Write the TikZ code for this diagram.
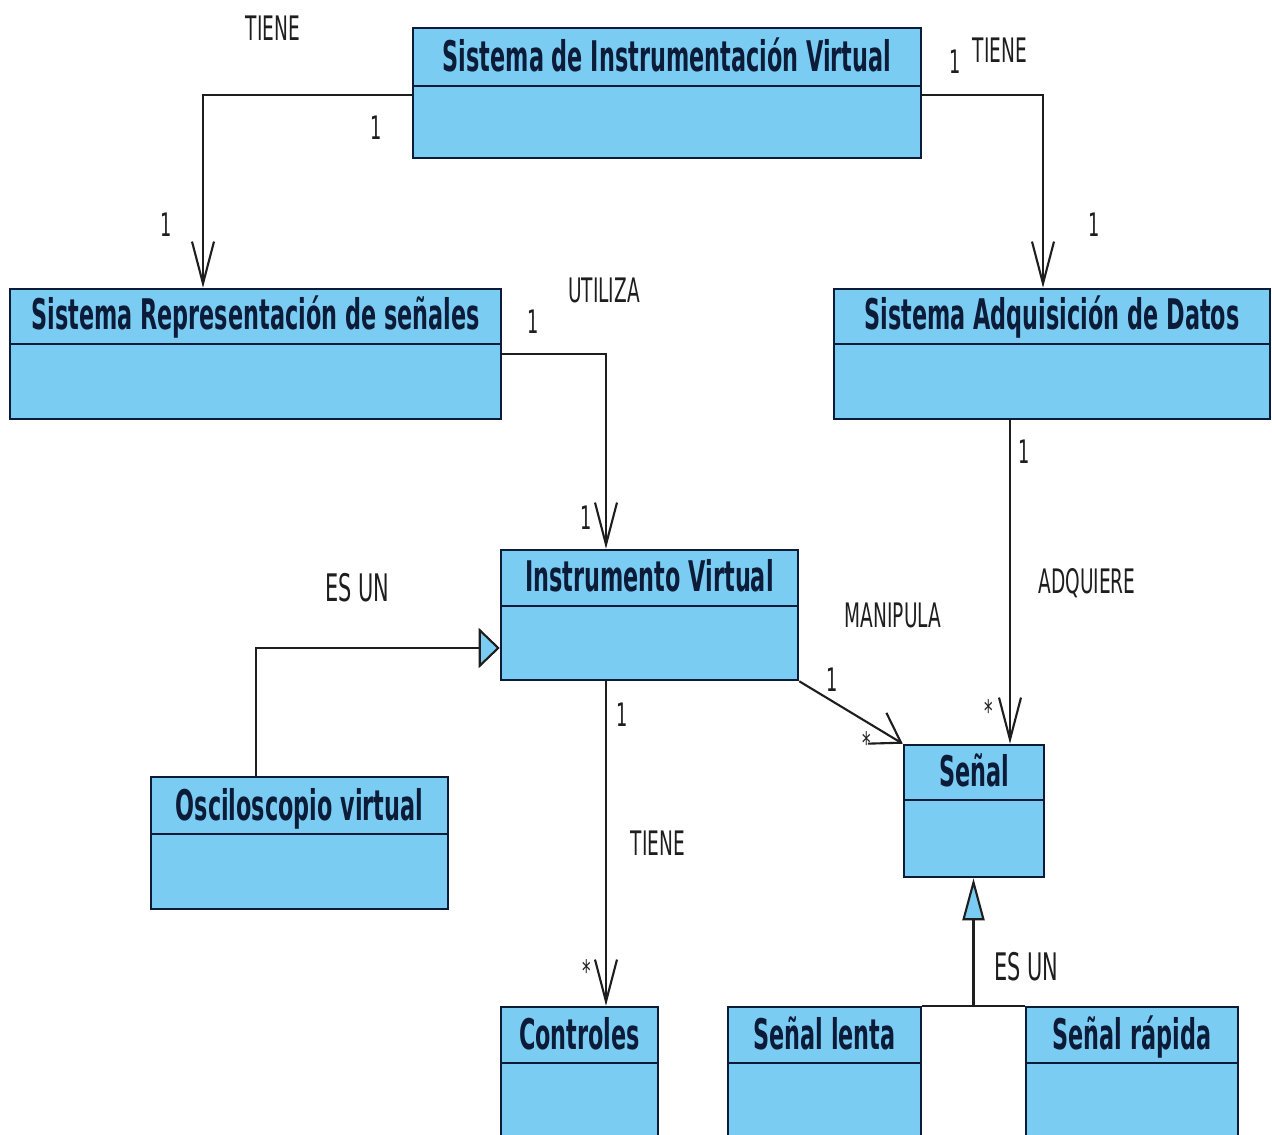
\documentclass[tikz,border=0pt]{standalone}
\usepackage{fontspec}
\setmainfont{DejaVu Sans}
\newfontfamily\titlefont{DejaVu Sans}[FakeStretch=0.53]
\newfontfamily\lblfont{DejaVu Sans}[FakeStretch=0.55]
\usetikzlibrary{arrows.meta,fit,calc}

\definecolor{boxblue}{RGB}{122,204,242}
\definecolor{ink}{RGB}{12,28,56}
\definecolor{wire}{RGB}{30,30,30}

\tikzset{
  x=0.025cm, y=-0.025cm,
  classbox/.style={draw=ink, line width=1.8pt, fill=boxblue, inner sep=0pt},
  ctitle/.style={font=\titlefont\bfseries\fontsize{30}{30}\selectfont, text=ink, inner sep=0pt, anchor=base},
  assoc/.style={draw=wire, line width=1.5pt},
  navarrow/.style={-{Straight Barb[length=1.05cm,width=0.55cm]}},
  diagarrow/.style={-{Straight Barb[length=0.7cm,width=0.9cm]}},
  genright/.style={-{Triangle[length=0.525cm,width=1cm,fill=boxblue]}},
  genup/.style={-{Triangle[length=1.05cm,width=0.55cm,fill=boxblue]}},
  lbl/.style={font=\lblfont\fontsize{24}{24}\selectfont, text=wire, inner sep=0pt},
  biglbl/.style={font=\lblfont\fontsize{27}{27}\selectfont, text=wire, inner sep=0pt},
  mult/.style={font=\lblfont\fontsize{23}{23}\selectfont, text=wire, inner sep=0pt},
  star/.style={font=\lblfont\fontsize{22}{22}\selectfont, text=wire, inner sep=0pt, anchor=north},
}

% class box: name, x1, y1, x2, y2, y of the divider, class name
\newcommand\umlclass[7]{%
  \node[classbox, fit={(#2,#3) (#4,#5)}] (#1) {};
  \draw[draw=ink, line width=1.8pt] (#2,#6) -- (#4,#6);
  \node[ctitle] (#1-title) at ({(#2+#4)/2},{#6-14}) {#7};
}

\begin{document}
\begin{tikzpicture}
\useasboundingbox (0,0) rectangle (1272,1135);
\fill[white] (0,0) rectangle (1272,1135);
\clip (0,0) rectangle (1272,1135);

% classes
\umlclass{sisv}{413}{28}{921}{158}{86}{Sistema de Instrumentación Virtual}
\umlclass{srep}{10}{289}{501}{419}{344}{Sistema Representación de señales}
\umlclass{sadq}{834}{289}{1270}{419}{344}{Sistema Adquisición de Datos}
\umlclass{iv}{501}{550}{798}{680}{606}{Instrumento Virtual}
\umlclass{osc}{151}{777}{448}{909}{834}{Osciloscopio virtual}
\umlclass{senal}{904}{745}{1044}{877}{800}{Señal}
\umlclass{ctrl}{501}{1007}{658}{1150}{1063}{Controles}
\umlclass{slenta}{728}{1007}{921}{1150}{1063}{Señal lenta}
\umlclass{srapida}{1026}{1007}{1238}{1150}{1063}{Señal rápida}

% associations
\draw[assoc, navarrow] (sisv.west |- 0,95) -| (203,0 |- srep.north);
\draw[assoc, navarrow] (sisv.east |- 0,95) -| (1043,0 |- sadq.north);
\draw[assoc, navarrow] (srep.east |- 0,354) -| (606,0 |- iv.north);
\draw[assoc, navarrow] (sadq.south -| 1010,0) -- (senal.north -| 1010,0);
\draw[assoc, navarrow] (iv.south -| 606,0) -- (ctrl.north -| 606,0);
\draw[assoc, diagarrow] (iv.south east) -- (senal.north west);

% generalizations
\draw[assoc, genright] (osc.north -| 256,0) |- (iv.west |- 0,648);
\coordinate (gj) at ($(slenta.north east)!0.5!(srapida.north west)$);
\draw[assoc] (slenta.north east) -- (srapida.north west);
\draw[assoc, genup] (gj) -- (gj |- senal.south);

% association names
\node[lbl] (l1) at (273,28) {TIENE};
\node[lbl] (l2) at (1000,50) {TIENE};
\node[lbl] (l3) at (604,290) {UTILIZA};
\node[biglbl] (l4) at (357,588) {ES UN};
\node[lbl] (l5) at (893,615) {MANIPULA};
\node[lbl] (l6) at (1087,583) {ADQUIERE};
\node[lbl] (l7) at (658,843) {TIENE};
\node[biglbl] (l8) at (1026,967) {ES UN};

% multiplicities
\node[mult] (m1) at (376,128) {1};
\node[mult] (m2) at (166,225) {1};
\node[mult] (m3) at (955,62) {1};
\node[mult] (m4) at (1094,225) {1};
\node[mult] (m5) at (533,322) {1};
\node[mult] (m6) at (586,518) {1};
\node[mult] (m7) at (1024,452) {1};
\node[mult] (m8) at (832,680) {1};
\node[mult] (m9) at (622,715) {1};
\node[star] (s1) at (867,731) {*};
\node[star] (s2) at (989,699) {*};
\node[star] (s3) at (587,959) {*};
\end{tikzpicture}
\end{document}
